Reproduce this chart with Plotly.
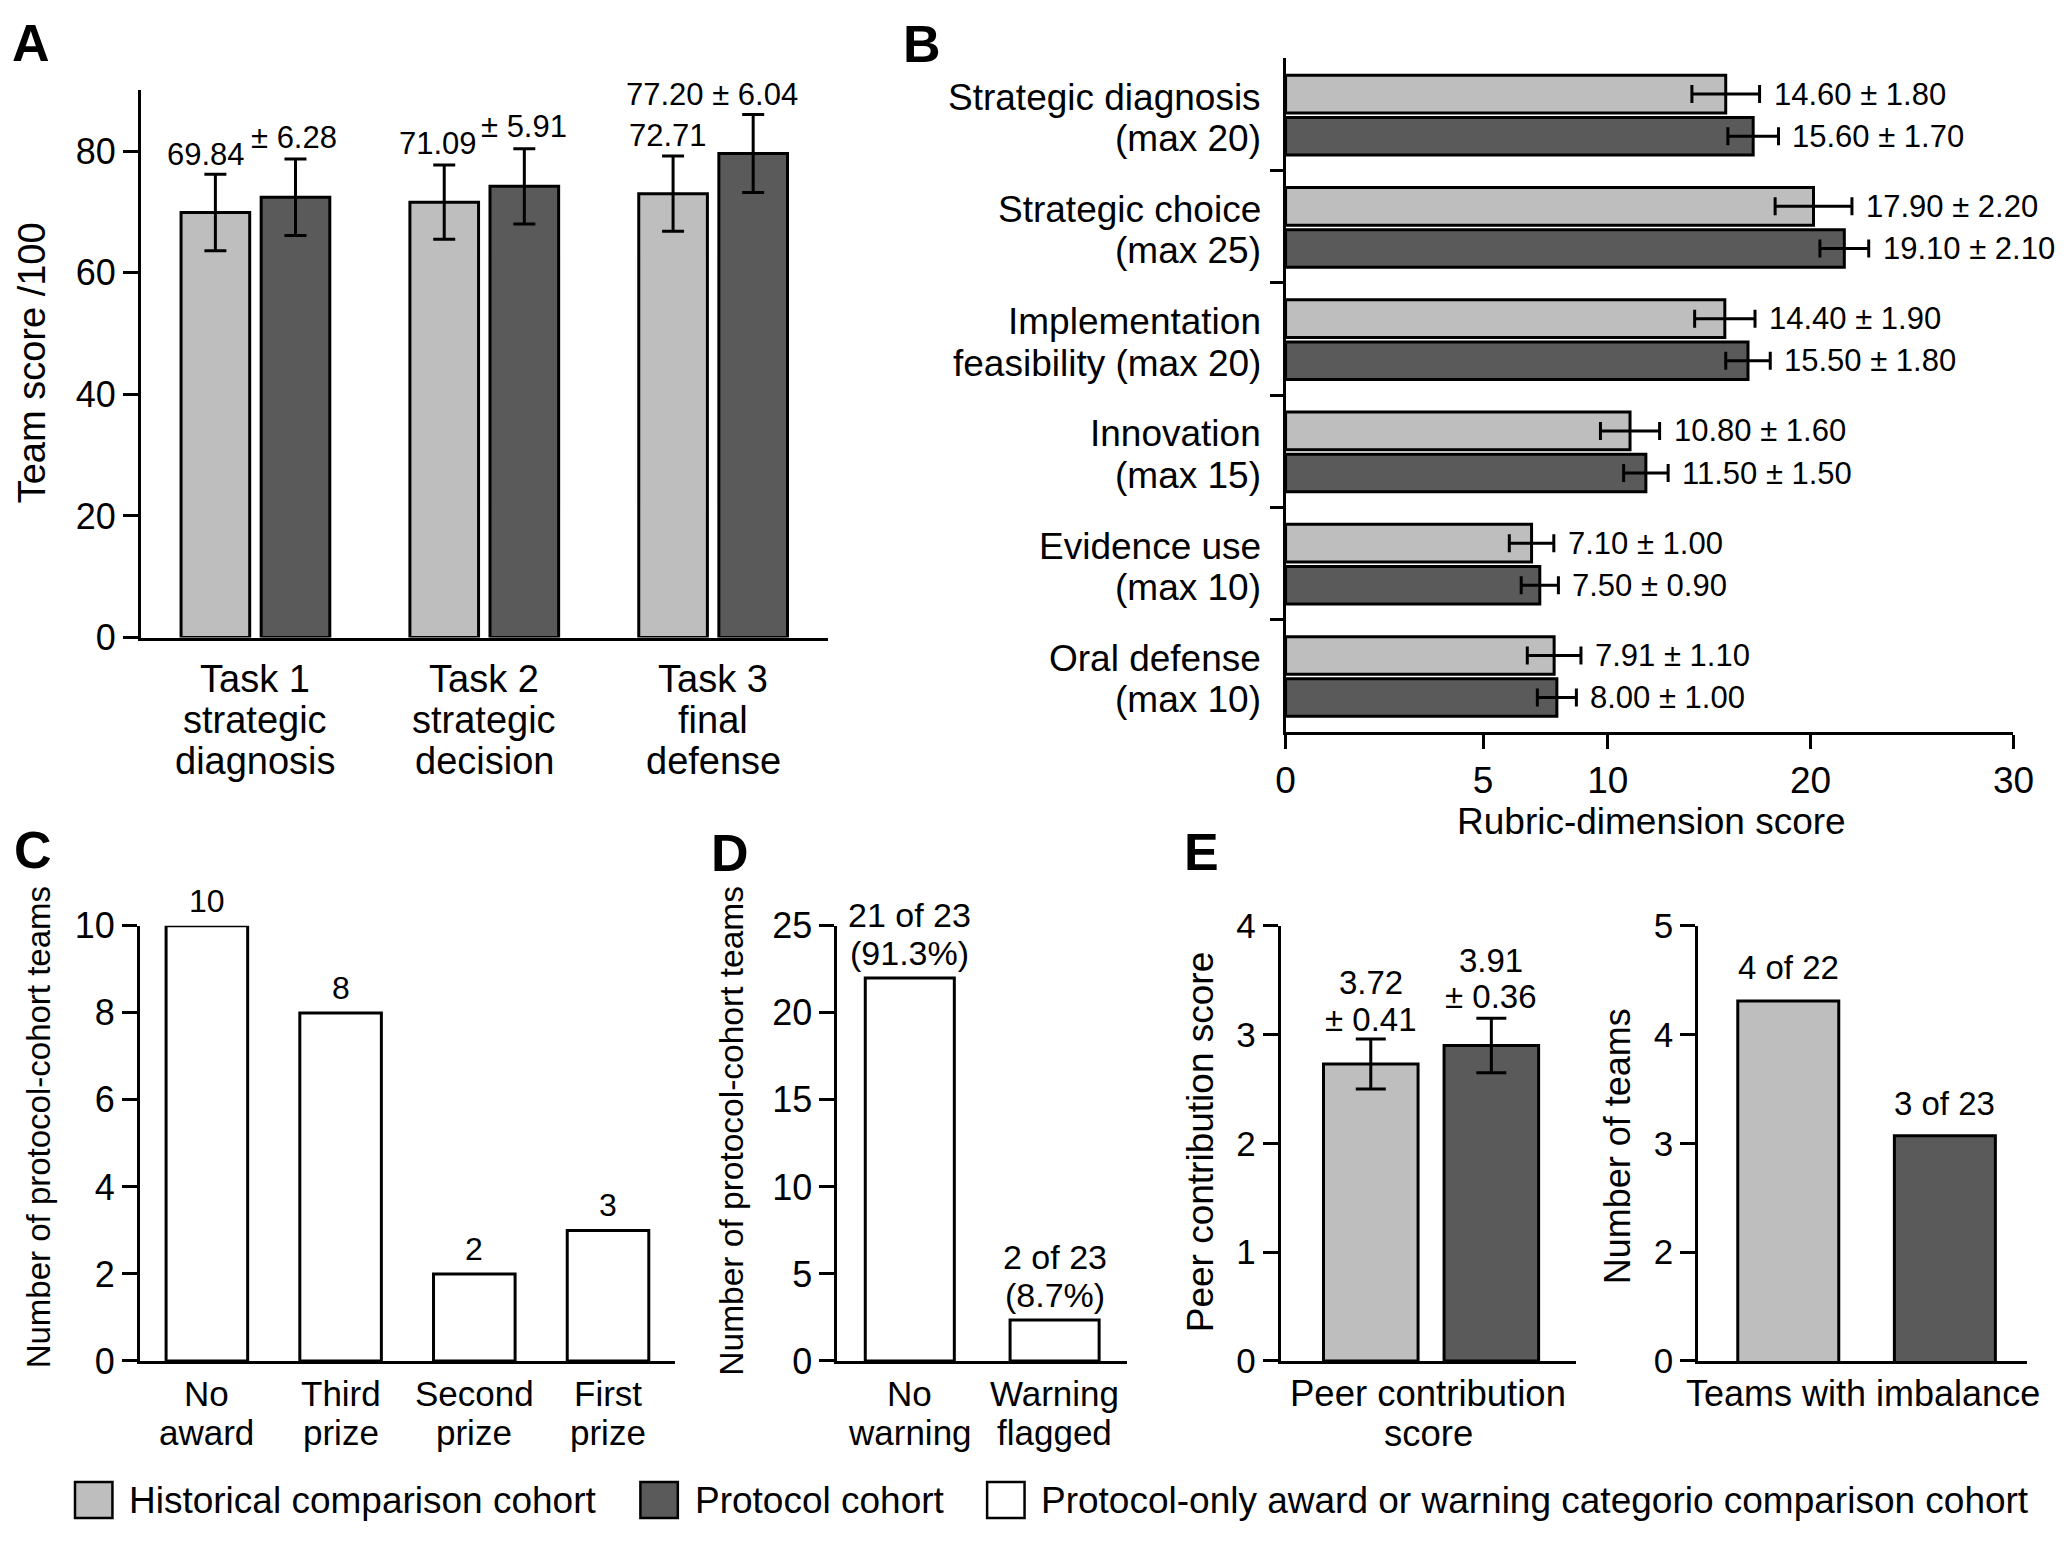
import plotly.graph_objects as go

W, H = 2067, 1543
FONT = "Liberation Sans, Arial, Helvetica, sans-serif"
LIGHT = "#bebebe"
DARK = "#5a5a5a"
BLACK = "#000000"

# ---------------- data ----------------
# Panel A
tasks = ["Task 1<br>strategic<br>diagnosis", "Task 2<br>strategic<br>decision", "Task 3<br>final<br>defense"]
hist_task_mean = [69.9, 71.6, 73.0]
hist_task_sd = [6.28, 6.1, 6.2]
prot_task_mean = [72.4, 74.2, 79.6]
prot_task_sd = [6.28, 6.2, 6.4]
hist_task_label = ["69.84", "71.09", "72.71"]
prot_task_label = ["± 6.28", "± 5.91", "77.20 ± 6.04"]

# Panel B
dims = ["Strategic diagnosis<br>(max 20)", "Strategic choice<br>(max 25)",
        "Implementation<br>feasibility (max 20)", "Innovation<br>(max 15)",
        "Evidence use<br>(max 10)", "Oral defense<br>(max 10)"]
hist_dim = [14.44, 17.32, 14.41, 11.30, 8.07, 8.81]
hist_dim_err = [1.11, 1.26, 0.99, 0.97, 0.73, 0.88]
prot_dim = [15.34, 18.33, 15.17, 11.82, 8.34, 8.90]
prot_dim_err = [0.83, 0.80, 0.73, 0.73, 0.61, 0.64]
hist_dim_label = ["14.60 ± 1.80", "17.90 ± 2.20", "14.40 ± 1.90", "10.80 ± 1.60", "7.10 ± 1.00", "7.91 ± 1.10"]
prot_dim_label = ["15.60 ± 1.70", "19.10 ± 2.10", "15.50 ± 1.80", "11.50 ± 1.50", "7.50 ± 0.90", "8.00 ± 1.00"]
dim_ticktext = ["0", "5", "10", "20", "30"]

# Panel C
awards = ["No<br>award", "Third<br>prize", "Second<br>prize", "First<br>prize"]
award_counts = [10, 8, 2, 3]
award_label = ["10", "8", "2", "3"]

# Panel D
warn_cats = ["No<br>warning", "Warning<br>flagged"]
warn_counts = [22, 2.35]
warn_label_n = ["21 of 23", "2 of 23"]
warn_label_pct = ["(91.3%)", "(8.7%)"]

# Panel E
peer_cat = ["Peer contribution<br>score"]
hist_peer = [2.73]
hist_peer_sd = [0.23]
prot_peer = [2.90]
prot_peer_sd = [0.25]
hist_peer_label = ["3.72", "± 0.41"]
prot_peer_label = ["3.91", "± 0.36"]

imb_cat = ["Teams with imbalance"]
hist_imb = [4.31]
prot_imb = [3.07]
hist_imb_label = "4 of 22"
prot_imb_label = "3 of 23"
imb_ticktext = ["0", "2", "3", "4", "5"]

legend_items = ["Historical comparison cohort", "Protocol cohort",
                "Protocol-only award or warning categorio comparison cohort"]

# ---------------- helpers ----------------
def px(x):
    return x / W


def py(y):
    return 1 - y / H


line = dict(color=BLACK, width=3)
err_style = dict(type="data", visible=True, color=BLACK, thickness=3)

fig = go.Figure()

# Panel A bars
WA = 0.30
OFF_A = [-0.325, 0.025]
fig.add_trace(go.Bar(x=tasks, y=hist_task_mean, width=WA, offset=OFF_A[0],
                     marker=dict(color=LIGHT, line=line),
                     error_y=dict(array=hist_task_sd, width=11, **err_style),
                     xaxis="x", yaxis="y", showlegend=False))
fig.add_trace(go.Bar(x=tasks, y=prot_task_mean, width=WA, offset=OFF_A[1],
                     marker=dict(color=DARK, line=line),
                     error_y=dict(array=prot_task_sd, width=11, **err_style),
                     xaxis="x", yaxis="y", showlegend=False))

# Panel B bars
WB = 0.335
OFF_B = [-0.35, 0.025]
fig.add_trace(go.Bar(y=dims, x=hist_dim, orientation="h", width=WB, offset=OFF_B[0],
                     marker=dict(color=LIGHT, line=line),
                     error_x=dict(array=hist_dim_err, width=9, **err_style),
                     xaxis="x2", yaxis="y2", showlegend=False))
fig.add_trace(go.Bar(y=dims, x=prot_dim, orientation="h", width=WB, offset=OFF_B[1],
                     marker=dict(color=DARK, line=line),
                     error_x=dict(array=prot_dim_err, width=9, **err_style),
                     xaxis="x2", yaxis="y2", showlegend=False))
# empty helper trace so the boundary-tick axis of panel B is drawn
fig.add_trace(go.Scatter(x=[None], y=[None], xaxis="x2", yaxis="y7",
                         showlegend=False, hoverinfo="skip"))

# Panel C
fig.add_trace(go.Bar(x=awards, y=award_counts, width=0.61,
                     marker=dict(color="white", line=line),
                     xaxis="x3", yaxis="y3", showlegend=False))
# Panel D
fig.add_trace(go.Bar(x=warn_cats, y=warn_counts, width=0.615,
                     marker=dict(color="white", line=line),
                     xaxis="x4", yaxis="y4", showlegend=False))

# Panel E left
WE1 = 0.32
OFF_E1 = [-0.355, 0.053]
fig.add_trace(go.Bar(x=peer_cat, y=hist_peer, width=WE1, offset=OFF_E1[0],
                     marker=dict(color=LIGHT, line=line),
                     error_y=dict(array=hist_peer_sd, width=15, **err_style),
                     xaxis="x5", yaxis="y5", showlegend=False))
fig.add_trace(go.Bar(x=peer_cat, y=prot_peer, width=WE1, offset=OFF_E1[1],
                     marker=dict(color=DARK, line=line),
                     error_y=dict(array=prot_peer_sd, width=15, **err_style),
                     xaxis="x5", yaxis="y5", showlegend=False))

# Panel E right
WE2 = 0.307
OFF_E2 = [-0.38, 0.096]
fig.add_trace(go.Bar(x=imb_cat, y=hist_imb, width=WE2, offset=OFF_E2[0],
                     marker=dict(color=LIGHT, line=line),
                     xaxis="x6", yaxis="y6", showlegend=False))
fig.add_trace(go.Bar(x=imb_cat, y=prot_imb, width=WE2, offset=OFF_E2[1],
                     marker=dict(color=DARK, line=line),
                     xaxis="x6", yaxis="y6", showlegend=False))

# ---------------- axes ----------------
def ax_common(size):
    return dict(showline=True, linecolor=BLACK, linewidth=3, mirror=False,
                showgrid=False, zeroline=False, tickcolor=BLACK, tickwidth=3,
                tickfont=dict(family=FONT, size=size, color=BLACK))

yr_cde = [py(1377.5), py(930.6)]

fig.update_layout(
    xaxis=dict(domain=[px(133), px(830)], anchor="y", type="category",
               range=[-0.5, 2.5], ticks="", showticklabels=False, **ax_common(38)),
    yaxis=dict(domain=[py(634.4), py(72.2)], anchor="x", range=[0, 90],
               tickvals=[0, 20, 40, 60, 80], ticks="outside", ticklen=15, **ax_common(36)),
    xaxis2=dict(domain=[px(1295), px(2034)], anchor="y2", range=[0, 23.88],
                tickvals=[0, 6.48, 10.57, 17.22, 23.88], ticktext=dim_ticktext,
                ticks="outside", ticklen=14, **ax_common(37)),
    yaxis2=dict(domain=[py(731.5), py(39.5)], anchor="x2", type="category",
                range=[5.5, -0.5], ticks="", showticklabels=False, **ax_common(37)),
    yaxis7=dict(overlaying="y2", anchor="x2", range=[5.5, -0.5],
                tickvals=[0.5, 1.5, 2.5, 3.5, 4.5], ticks="outside", ticklen=15,
                tickwidth=3, tickcolor=BLACK, showline=False, showgrid=False,
                zeroline=False, showticklabels=False),
    xaxis3=dict(domain=[px(132), px(675)], anchor="y3", type="category",
                range=[-0.5, 3.5], ticks="", showticklabels=False, **ax_common(36)),
    yaxis3=dict(domain=yr_cde, anchor="x3", range=[0, 10], tickvals=[0, 2, 4, 6, 8, 10],
                ticks="outside", ticklen=15, **ax_common(36)),
    xaxis4=dict(domain=[px(840), px(1134)], anchor="y4", type="category",
                range=[-0.5, 1.5], ticks="", showticklabels=False, **ax_common(36)),
    yaxis4=dict(domain=yr_cde, anchor="x4", range=[0, 25], tickvals=[0, 5, 10, 15, 20, 25],
                ticks="outside", ticklen=15, **ax_common(36)),
    xaxis5=dict(domain=[px(1290), px(1590)], anchor="y5", type="category",
                range=[-0.5, 0.5], ticks="", showticklabels=False, **ax_common(37)),
    yaxis5=dict(domain=yr_cde, anchor="x5", range=[0, 4], tickvals=[0, 1, 2, 3, 4],
                ticks="outside", ticklen=15, **ax_common(35)),
    xaxis6=dict(domain=[px(1714), px(2048)], anchor="y6", type="category",
                range=[-0.5, 0.5], ticks="", showticklabels=False, **ax_common(36)),
    yaxis6=dict(domain=yr_cde, anchor="x6", range=[1, 5], tickvals=[1, 2, 3, 4, 5],
                ticktext=imb_ticktext, ticks="outside", ticklen=15, **ax_common(35)),
)

# ---------------- annotations ----------------
ann = []


def text(x, y, s, size, xref="paper", yref="paper", xanchor="center", yanchor="middle",
         xshift=0, yshift=0, angle=0, bold=False):
    ann.append(dict(x=x, y=y, xref=xref, yref=yref, text=("<b>%s</b>" % s) if bold else s,
                    showarrow=False, xanchor=xanchor, yanchor=yanchor,
                    xshift=xshift, yshift=yshift, textangle=angle,
                    font=dict(family=FONT, size=size, color=BLACK)))


def cat_lines(xref, cats, size, first_mid, pitch):
    # multi-line category labels under a category x-axis, one annotation per line
    for i, c in enumerate(cats):
        for k, ln in enumerate(c.split("<br>")):
            text(i, py(first_mid + k * pitch), ln, size, xref=xref)


# panel letters
for letter, lx, ly in [("A", 0, 23.5), ("B", 905, 24.5), ("C", 2, 852.5),
                       ("D", 710, 855.5), ("E", 1190, 854.5)]:
    text(px(lx), py(ly), letter, 52, xanchor="left", bold=True)

# category labels
cat_lines("x", tasks, 38, 676.7, 42.5)
cat_lines("x3", awards, 35, 1411, 40)
cat_lines("x4", warn_cats, 35, 1411, 40)
cat_lines("x5", peer_cat, 36.5, 1411, 41.5)
cat_lines("x6", imb_cat, 36, 1411.4, 40)
for i, c in enumerate(dims):
    l1, l2 = c.split("<br>")
    text(px(1272), i, l1, 37, yref="y2", xanchor="right", yshift=17.5)
    text(px(1272), i, l2, 37, yref="y2", xanchor="right", yshift=-24)

# axis titles
text(px(22), py(352), "Team score /100", 38, angle=-90)
text(px(1667), py(823), "Rubric-dimension score", 37)
text(px(29), py(1138), "Number of protocol-cohort teams", 33, angle=-90)
text(px(733), py(1141), "Number of protocol-cohort teams", 33.5, angle=-90)
text(px(1208), py(1153), "Peer contribution score", 37, angle=-90)
text(px(1632), py(1157.5), "Number of teams", 36, angle=-90)

# Panel A value labels (label offsets in px relative to error-bar tops)
A_hist_shift = [(-9.5, 20), (-6, 22), (-5, 20.7)]
A_prot_shift = [(-1, 22), (0, 22), (-41.5, 19.8)]
for i in range(3):
    xs, ys = A_hist_shift[i]
    text(i + OFF_A[0] + WA / 2, hist_task_mean[i] + hist_task_sd[i], hist_task_label[i], 31,
         xref="x", yref="y", xshift=xs, yshift=ys)
    xs, ys = A_prot_shift[i]
    text(i + OFF_A[1] + WA / 2, prot_task_mean[i] + prot_task_sd[i], prot_task_label[i], 31,
         xref="x", yref="y", xshift=xs, yshift=ys)

# Panel B value labels
for i in range(6):
    text(hist_dim[i] + hist_dim_err[i], i + OFF_B[0] + WB / 2, hist_dim_label[i], 31,
         xref="x2", yref="y2", xanchor="left", xshift=12)
    text(prot_dim[i] + prot_dim_err[i], i + OFF_B[1] + WB / 2, prot_dim_label[i], 31,
         xref="x2", yref="y2", xanchor="left", xshift=12)

# Panel C labels
for i in range(4):
    text(i, award_counts[i], award_label[i], 32, xref="x3", yref="y3", yshift=25)

# Panel D labels
for i in range(2):
    text(i, warn_counts[i], warn_label_n[i], 34, xref="x4", yref="y4", yshift=63)
    text(i, warn_counts[i], warn_label_pct[i], 34, xref="x4", yref="y4", yshift=25)

# Panel E labels
text(OFF_E1[0] + WE1 / 2, hist_peer[0] + hist_peer_sd[0], hist_peer_label[0], 33,
     xref="x5", yref="y5", yshift=56)
text(OFF_E1[0] + WE1 / 2, hist_peer[0] + hist_peer_sd[0], hist_peer_label[1], 33,
     xref="x5", yref="y5", yshift=19)
text(OFF_E1[1] + WE1 / 2, prot_peer[0] + prot_peer_sd[0], prot_peer_label[0], 33,
     xref="x5", yref="y5", yshift=57.8)
text(OFF_E1[1] + WE1 / 2, prot_peer[0] + prot_peer_sd[0], prot_peer_label[1], 33,
     xref="x5", yref="y5", yshift=21.8)
text(OFF_E2[0] + WE2 / 2, hist_imb[0], hist_imb_label, 33, xref="x6", yref="y6", yshift=33)
text(OFF_E2[1] + WE2 / 2, prot_imb[0], prot_imb_label, 33, xref="x6", yref="y6", yshift=32)

# legend (drawn as shapes + text)
shapes = []
for (x0, x1, tx), fill, label in zip([(66, 104, 119), (640, 678, 693), (992, 1030, 1045)],
                                     [LIGHT, DARK, "white"], legend_items):
    shapes.append(dict(type="rect", xref="paper", yref="paper", x0=px(x0), x1=px(x1),
                       y0=py(1539), y1=py(1502), fillcolor=fill,
                       line=dict(color=BLACK, width=2.5)))
    text(px(tx), py(1521), label, 37, xanchor="left")

fig.update_layout(
    width=W, height=H, margin=dict(l=0, r=0, t=0, b=0, pad=0),
    paper_bgcolor="white", plot_bgcolor="white",
    barmode="overlay", annotations=ann, shapes=shapes,
    font=dict(family=FONT, color=BLACK), showlegend=False,
)

fig.write_html("out.html", config={"displayModeBar": False},
               post_script="document.body.style.margin='0px';document.body.style.overflow='hidden';")
